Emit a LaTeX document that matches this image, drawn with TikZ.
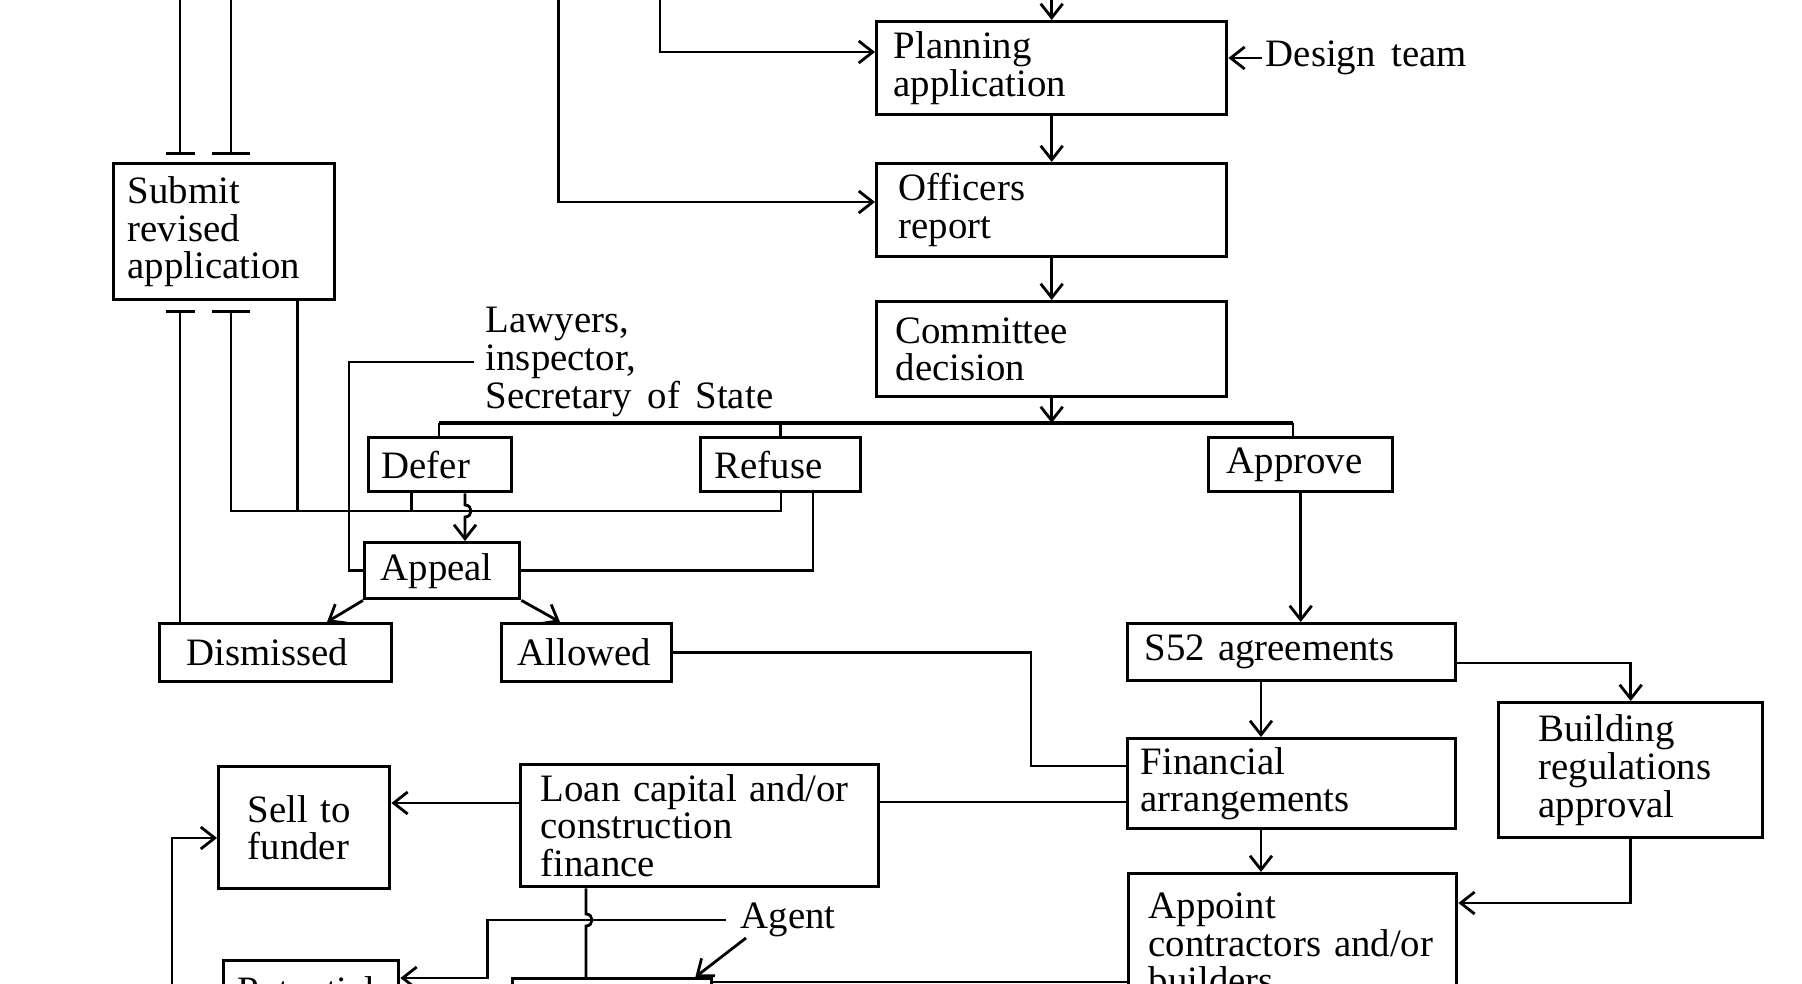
\documentclass[tikz,border=0pt]{standalone}
\usepackage{fontspec}
\setmainfont{Liberation Serif}
\usetikzlibrary{arrows.meta,calc}
\newcommand\fs{\fontsize{9.7}{9.4}\selectfont\spaceskip=0.4em plus 0.1em minus 0.05em\relax}
\begin{document}
\begin{tikzpicture}[x=0.25pt,y=-0.25pt,
  ln/.style={line width=0.7pt},
  ar/.style={ln,-{Straight Barb[length=3.5pt,width=5.5pt]}},
  bx/.style={draw,line width=0.85pt,anchor=north west,align=left,inner ysep=0pt,font=\fs},
  lbl/.style={font=\fs,align=left,anchor=west,inner ysep=0pt},
]
\useasboundingbox (0,0) rectangle (1802,984);
\clip (0,0) rectangle (1802,984);
\fill[white] (0,0) rectangle (1802,984);

% boxes
\node[bx,minimum width=55.25pt,minimum height=34pt,inner xsep=3.5pt,text width=48.25pt] (sub) at (112,162) {Submit\\revised\\application};
\node[bx,minimum width=87.5pt,minimum height=23.25pt,inner xsep=4.25pt,text width=79pt] (plan) at (875,20) {Planning\\application};
\node[bx,minimum width=87.5pt,minimum height=23.25pt,inner xsep=5.5pt,text width=76.5pt] (off) at (875,162) {Officers\\report};
\node[bx,minimum width=87.5pt,minimum height=23.75pt,inner xsep=4.75pt,text width=78pt] (com) at (875,300) {Committee\\decision};
\node[bx,minimum width=35.75pt,minimum height=13.5pt,inner xsep=3.25pt,text width=29.25pt] (def) at (367,436) {Defer};
\node[bx,minimum width=40pt,minimum height=13.5pt,inner xsep=3.5pt,text width=33pt] (ref) at (699,436) {Refuse};
\node[bx,minimum width=46pt,minimum height=13.5pt,inner xsep=4.5pt,text width=37pt] (apr) at (1207,436) {Approve};
\node[bx,minimum width=38.75pt,minimum height=14pt,inner xsep=4pt,text width=30.75pt] (app) at (363,541) {Appeal};
\node[bx,minimum width=58pt,minimum height=14.5pt,inner xsep=6.75pt,text width=44.5pt] (dis) at (158,622) {Dismissed};
\node[bx,minimum width=42.5pt,minimum height=14.5pt,inner xsep=4pt,text width=34.5pt] (all) at (500,622) {Allowed};
\node[bx,minimum width=82pt,minimum height=14.25pt,inner xsep=4.25pt,text width=73.5pt] (s52) at (1126,622) {S52~agreements};
\node[bx,minimum width=82pt,minimum height=22.5pt,inner xsep=3.25pt,text width=75.5pt] (fin) at (1126,737) {Financial\\arrangements};
\node[bx,minimum width=66pt,minimum height=33.75pt,inner xsep=10pt,text width=46pt] (bra) at (1497,701) {Building\\regulations\\approval};
\node[bx,minimum width=82pt,minimum height=35pt,inner xsep=5pt,text width=72pt] (apt) at (1127,872) {Appoint\\contractors~and/or\\builders};
\node[bx,minimum width=42.75pt,minimum height=30.5pt,inner xsep=7.25pt,text width=28.25pt] (sell) at (217,765) {Sell~to\\funder};
\node[bx,minimum width=89.5pt,minimum height=30.5pt,inner xsep=5pt,text width=79.5pt] (loan) at (519,763) {Loan~capital~and/or\\construction\\finance};
\node[bx,minimum width=43.75pt,minimum height=15pt,inner xsep=3.5pt,text width=36.75pt] (pot) at (222,959) {Potential};
\node[bx,minimum width=49.75pt,minimum height=15.75pt] (bot) at (511,977) {};

% free labels
\node[lbl,inner xsep=2.75pt] (law) at (474,362) {Lawyers,\\inspector,\\Secretary of State};
\node[lbl,inner xsep=0.75pt] (dt) at (1262,58) {Design team};
\node[lbl,inner xsep=3.5pt] (agt) at (726,920) {Agent};

% coordinates
\coordinate (top) at (0,0);
\coordinate (tA) at (660,0);
\coordinate (tB) at (558.5,0);
\coordinate (tC) at (180,0);
\coordinate (tD) at (231,0);
\coordinate (busL) at (439,423);
\coordinate (busR) at (1293,423);
\coordinate (hl) at (231,511);
\coordinate (hr) at (781,511);
\coordinate (bL) at (172,1000);

% top part
\draw[ar] (plan.north |- top) -- (plan.north);
\draw[ar] (tA) |- ($(plan.north west)+(0,32)$);
\draw[ar] (tB) |- ($(off.north west)+(0,40)$);
\draw[ar] (plan.south) -- (off.north);
\draw[ar] (off.south) -- (com.north);
\draw[ar] (com.south) -- (com.south |- busL);
\draw[ar] (dt.west) -- (dt.west -| plan.east);

% decision bus
\draw[line width=1.1pt] (busL) -- (busR);
\draw[ln] (busL) -- (busL |- def.north);
\draw[ln] (ref.north |- busL) -- (ref.north);
\draw[ln] (busR) -- (busR |- apr.north);

% lines passing the submit box
\draw[ln,-{Bar[width=7.25pt]}] (tC) -- ($(tC |- sub.north)+(0,-7)$);
\draw[ln,-{Bar[width=9.5pt]}] (tD) -- ($(tD |- sub.north)+(0,-7)$);
\draw[ln,{Bar[width=7.25pt]}-] ($(tC |- sub.south)+(0,9)$) -- (tC |- dis.north);
\draw[ln,{Bar[width=9.5pt]}-] ($(tD |- sub.south)+(0,9)$) -- (hl) -- (hr) -- (hr |- ref.south);
\coordinate (sE) at ($(sub.south east)+(-39,0)$);
\draw[ln] (sE) -- (sE |- hl);
\coordinate (dA) at ($(def.south west)+(44.6,0)$);
\draw[ln] (dA) -- (dA |- hl);

% defer -> appeal with jump
\coordinate (dB) at ($(def.south west)+(98,0)$);
\draw[ar] (dB) -- ($(dB |- hl)+(0,-6)$) .. controls +(8,0) and +(8,0) .. ($(dB |- hl)+(0,6)$) -- (dB |- app.north);

% appeal links
\draw[ln] (app.east) -| ($(ref.south west)+(114,0)$);
\draw[ln] (law.west) -| ($(app.west)+(-14,0)$) -- (app.west);
\draw[ar] (app.south west) -- ($(dis.north west)+(169,0)$);
\draw[ar] (app.south east) -- ($(all.north west)+(60,0)$);
\draw[ln] (all.east) -| ($(fin.north west)+(-95,29)$) -- ($(fin.north west)+(0,29)$);

% approve chain
\draw[ar] (apr.south) -- (apr.south |- s52.north);
\draw[ar] ($(s52.north east)+(0,41)$) -| (bra.north);
\draw[ar] ($(s52.south west)+(135,0)$) -- ($(fin.north west)+(135,0)$);
\draw[ar] ($(fin.south west)+(135,0)$) -- ($(apt.north west)+(134,0)$);
\draw[ar] (bra.south) |- ($(apt.north east)+(0,31)$);

% finance row
\coordinate (fL) at ($(fin.north west)+(0,65)$);
\draw[ln] (fL) -- (fL -| loan.east);
\coordinate (lL) at ($(loan.north west)+(0,40)$);
\draw[ar] (lL) -- (lL -| sell.east);
\draw[ar] (bL) |- ($(sell.north west)+(0,73)$);

% bottom part
\coordinate (lB) at ($(loan.south west)+(67,0)$);
\draw[ln] (lB) -- ($(lB |- agt.west)+(0,-6)$) .. controls +(8,0) and +(8,0) .. ($(lB |- agt.west)+(0,6)$) -- (lB |- bot.north);
\draw[ar] (agt.west) -| ($(pot.north east)+(87,19)$) -- ($(pot.north east)+(0,19)$);
\coordinate (agA) at (746,938);
\draw[ar] (agA) -- ($(bot.north east)+(-18,0)$);
\coordinate (aL) at ($(apt.north west)+(0,110)$);
\draw[ln] (aL) -- (aL -| bot.east);
\end{tikzpicture}
\end{document}
